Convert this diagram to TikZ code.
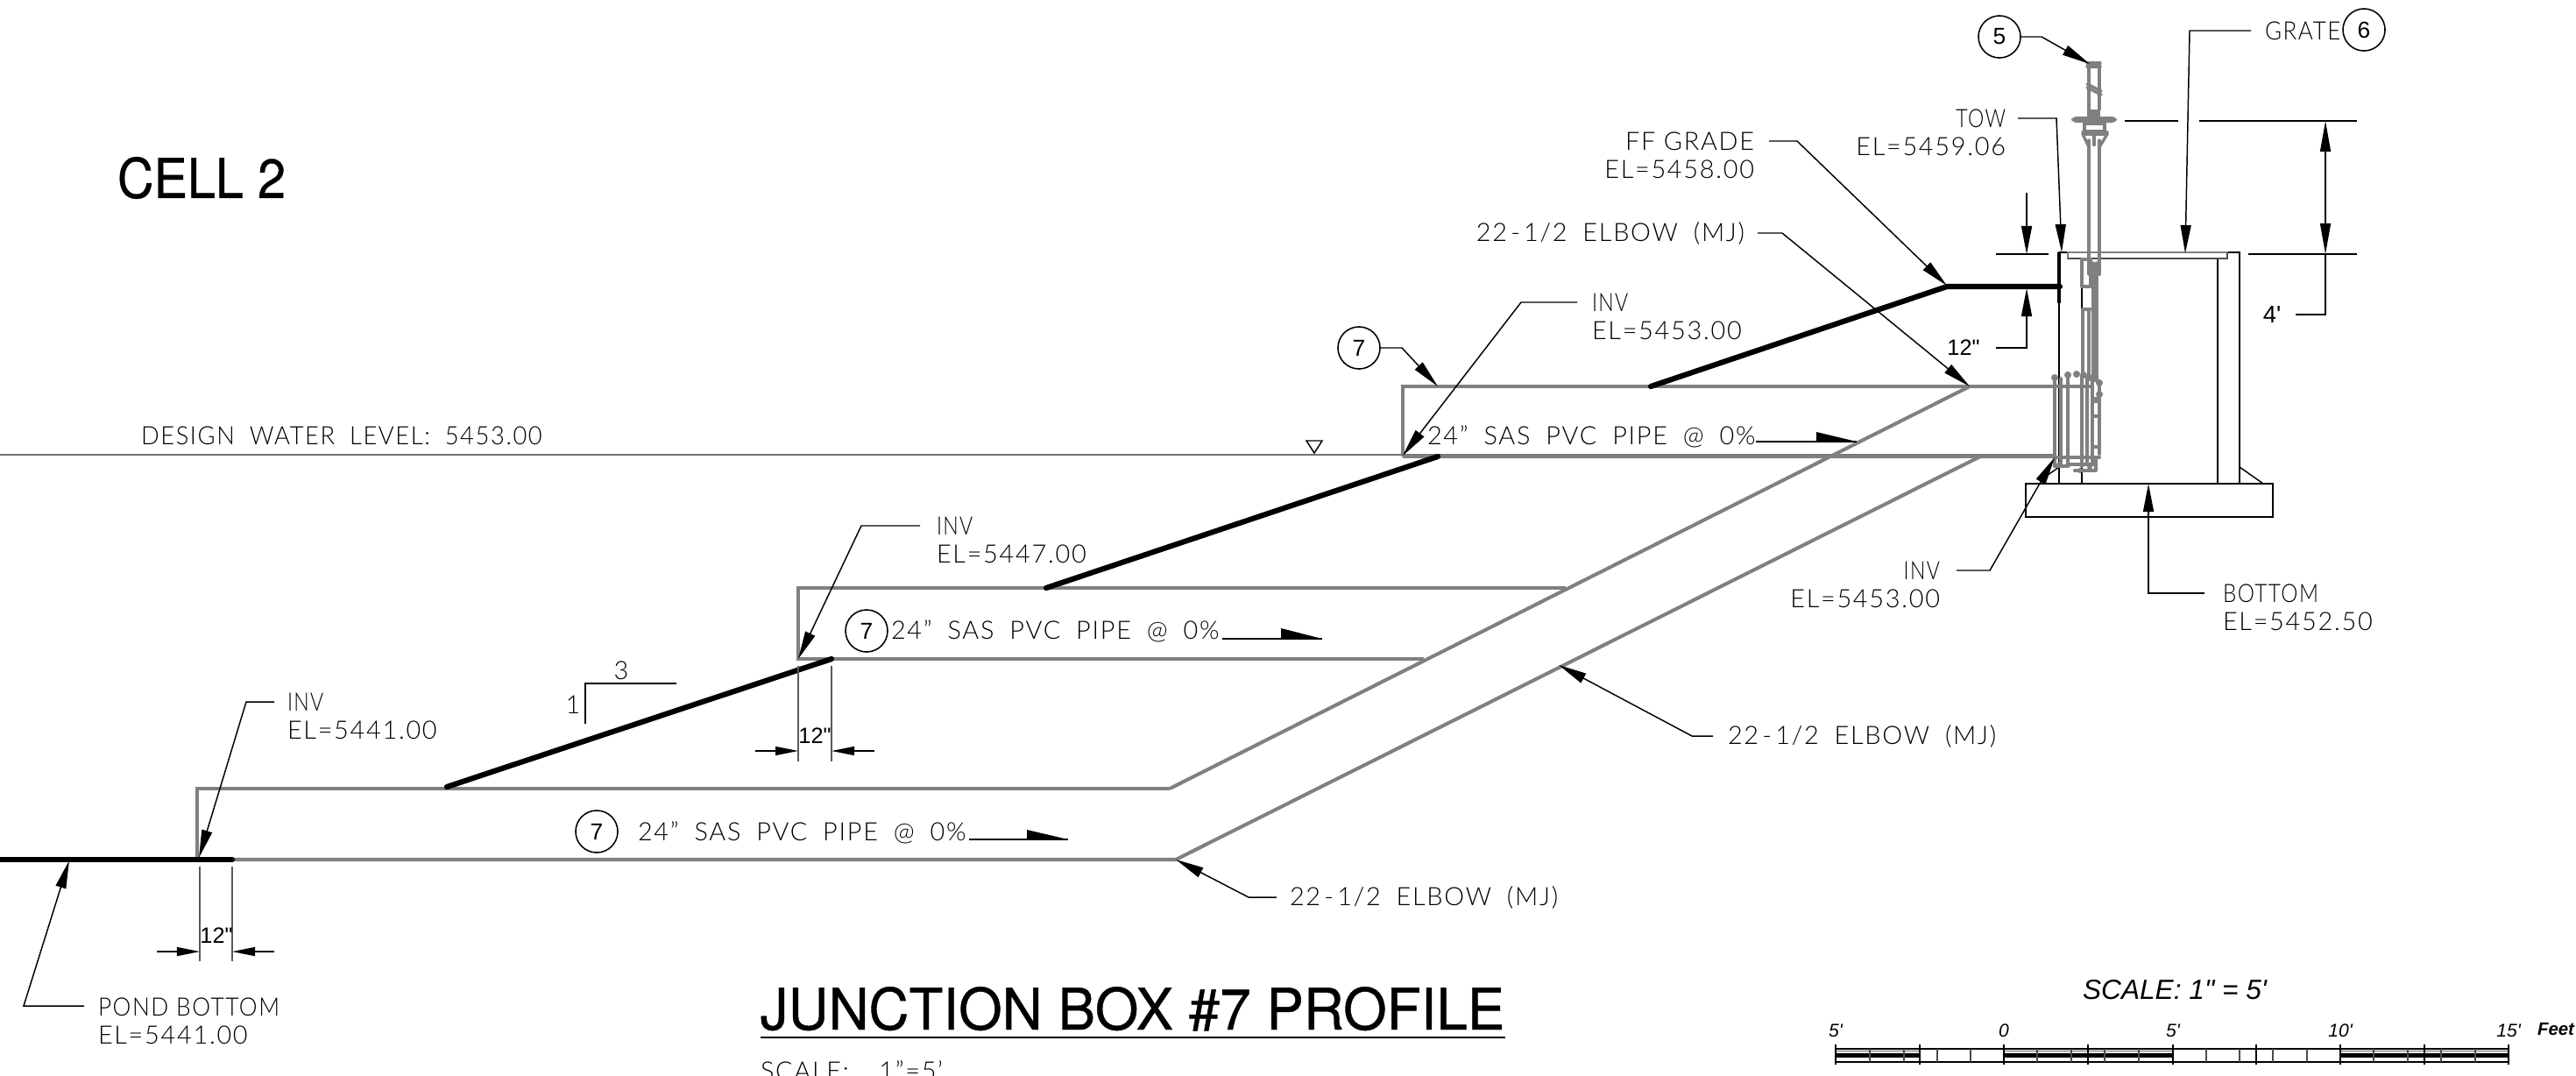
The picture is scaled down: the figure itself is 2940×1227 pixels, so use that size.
\documentclass[tikz,border=0pt]{standalone}
\usepackage{fontspec}
\usetikzlibrary{arrows.meta}
\setmainfont{Lato Light}[LetterSpace=6]
\newfontfamily\widef{Lato Light}[LetterSpace=6,WordSpace=1.87]
\newfontfamily\arialf{Liberation Sans}
\newfontfamily\heavyf{TeX Gyre Heros}[FakeBold=0.6]
\definecolor{pipegray}{HTML}{808080}
\newcommand{\sq}[2]{\scalebox{#1}[1]{#2}}
\newcommand{\elbowtext}{22\kern1.2pt-\kern1.2pt1/2 ELBOW (MJ)}
\tikzset{
  lab/.style={inner sep=0pt,outer sep=0pt,font=\fontsize{8.2}{9.1}\selectfont,align=left,anchor=north west},
  labr/.style={inner sep=0pt,outer sep=0pt,font=\fontsize{8.2}{9.1}\selectfont,align=right,anchor=north east},
  pipetext/.style={inner sep=0pt,outer sep=0pt,font=\widef\fontsize{8.2}{9.1}\selectfont,anchor=base west},
  dimtext/.style={inner sep=0pt,outer sep=0pt,font=\arialf\fontsize{7.2}{8}\selectfont},
  scaletext/.style={inner sep=0pt,outer sep=0pt,font=\arialf\itshape\fontsize{6}{7}\selectfont},
  bubble/.style={circle,draw=black,line width=0.45pt,minimum size=0.48cm,inner sep=0pt,font=\arialf\fontsize{7.5}{8}\selectfont},
  thin line/.style={draw=black,line width=0.42pt},
  leader/.style={thin line,-{Triangle[length=0.32cm,width=0.12cm]}},
  tick arrow/.style={thin line,-{Triangle[length=0.26cm,width=0.1cm]}},
  pipe/.style={draw=pipegray,line width=1.15pt,line join=miter},
  grade/.style={draw=black,line width=1.75pt,line cap=round},
  gate/.style={draw=pipegray,line width=0.95pt,line cap=round,line join=round},
  gatebody/.style={draw=pipegray,line width=1.15pt,line cap=round,line join=round},
  hairline/.style={draw=black!65,line width=0.35pt},
  waterline/.style={draw=black!55,line width=0.35pt},
  flowhead/.style={fill=black},
}
\begin{document}
\begin{tikzpicture}[x=0.01cm,y=-0.01cm]
\useasboundingbox (0,0) rectangle (2940,1227);
\clip (0,0) rectangle (2940,1227);

% ---- key points
\coordinate (waterL) at (0,519); \coordinate (waterR) at (2345,519);
\coordinate (p1tl) at (225,900); \coordinate (p1bl) at (225,981);
\coordinate (p1tr) at (1335,900); \coordinate (p1br) at (1342,981);
\coordinate (p2tl) at (911,671); \coordinate (p2bl) at (911,752);
\coordinate (p2tr) at (1787,671); \coordinate (p2br) at (1625,752);
\coordinate (p3tl) at (1601,441); \coordinate (p3bl) at (1601,521);
\coordinate (p3tr) at (2344,441); \coordinate (p3br) at (2344,521);
\coordinate (elbowU) at (2248,441); \coordinate (elbowL) at (2260,521);
\coordinate (pondL) at (0,981); \coordinate (pondR) at (265,981);
\coordinate (g1a) at (510,898); \coordinate (g1b) at (949,752);
\coordinate (g2a) at (1194,671); \coordinate (g2b) at (1641,521);
\coordinate (g3a) at (1884,441); \coordinate (g3b) at (2222,327); \coordinate (g3c) at (2351,327);
\coordinate (ffT) at (2222,326);
\coordinate (midLow) at (1779,759);

% ---- water level
\draw[waterline] (waterL) -- (waterR);
\node[lab,font=\widef\fontsize{8.2}{9.1}\selectfont] (dwl) at (161,487) {\sq{0.945}{DESIGN WATER LEVEL: 5453.00}};
\coordinate (tA) at (1491,503); \coordinate (tB) at (1509,503); \coordinate (tC) at (1500,517);
\draw[thin line] (tA) -- (tB) -- (tC) -- cycle;

% ---- pipes
\draw[pipe] (p1tr) -- (p1tl) -- (p1bl);
\draw[pipe] (pondR) -- (p1br) -- (elbowL);
\draw[pipe] (p1tr) -- (elbowU);
\draw[pipe] (p2br) -- (p2bl) -- (p2tl) -- (p2tr);
\draw[pipe] (p3bl) -- (p3tl) -- (p3tr);
\draw[pipe] (p3bl) -- (p3br);

% ---- grade line
\draw[grade] (pondL) -- (pondR);
\draw[grade] (g1a) -- (g1b);
\draw[grade] (g2a) -- (g2b);
\draw[grade] (g3a) -- (g3b) -- (g3c);

% ---- structure
\coordinate (boxTL) at (2350,288); \coordinate (boxBL) at (2350,552);
\coordinate (boxTR) at (2556,288); \coordinate (boxBR) at (2556,552);
\coordinate (inTR) at (2531,295); \coordinate (inBR) at (2531,552);
\coordinate (footA) at (2312,552); \coordinate (footB) at (2594,590);
\draw[thin line,line width=0.5pt] (boxBL) -- (boxTL) -- (boxTR) -- (boxBR);
\draw[thin line,line width=0.5pt] (inTR) -- (inBR);
\draw[thin line,line width=0.5pt] (footA) rectangle (footB);
\draw[thin line,line width=0.5pt] (2376,525) -- (2376,552);
\draw[thin line,line width=0.5pt] (2376,327) -- (2376,353);
\draw[thin line,line width=1.1pt] (2350,288) -- (2350,346);
\draw[thin line] (2556,533) -- (2583,552);
\draw[thin line] (2333,545) -- (2350,533);
\draw[draw=pipegray,line width=0.8pt] (2360,288) rectangle (2542,295);
\draw[draw=black!70,line width=0.6pt] (2360,295) -- (2542,295) -- (2542,288);

% gate stem and operator
\draw[gate] (2382,72) -- (2397,72);
\draw[gate] (2382,76) -- (2397,76);
\draw[gate] (2384,72) -- (2384,125);
\draw[gate] (2396,72) -- (2396,125);
\draw[gate] (2382,96) -- (2398,104);
\draw[gate] (2382,100) -- (2398,108);
\fill[pipegray] (2382,125) rectangle (2397,135);
\fill[pipegray,rounded corners=1.5pt] (2364,133) rectangle (2416,140);
\draw[gate] (2379,141) -- (2402,141) -- (2402,150) -- (2379,150) -- cycle;
\draw[gate] (2377,151) -- (2405,151);
\draw[gate] (2377,153) -- (2405,153);
\draw[gate] (2377,153) -- (2384,168);
\draw[gate] (2405,153) -- (2396,168);
\draw[gate,line width=1.3pt] (2390,155) -- (2390,165);
\draw[gate] (2384,160) -- (2384,313);
\draw[gate] (2396,160) -- (2396,313);
\draw[gate] (2396,313) -- (2388,313);
\draw[gatebody] (2376,296) -- (2376,327) -- (2386,327) -- (2386,296) -- cycle;
\draw[gate] (2378,353) -- (2386,353);
\draw[gatebody] (2377,353) -- (2377,430);
\draw[gatebody] (2384,353) -- (2384,430);
\draw[gate] (2389,300) -- (2389,435);
\draw[gate] (2393,300) -- (2393,435);
\draw[gatebody] (2345,430) -- (2345,532);
\draw[gatebody] (2352,432) -- (2352,530);
\draw[gatebody] (2360,430) -- (2360,530);
\draw[gatebody] (2376,430) -- (2376,530);
\draw[gatebody] (2382,430) -- (2382,530);
\draw[gatebody] (2388,435) -- (2388,530);
\draw[gatebody] (2396,435) -- (2396,518);
\draw[gatebody] (2345,441) -- (2388,441);
\draw[gatebody] (2345,522) -- (2396,522);
\draw[gatebody] (2360,530) -- (2392,530);
\draw[gatebody] (2368,537) -- (2392,537) -- (2392,522);
\draw[gatebody] (2345,532) -- (2358,532);
\draw[gatebody] (2388,455) -- (2396,455);
\draw[gatebody] (2388,458) -- (2396,458);
\draw[gatebody] (2388,475) -- (2396,475);
\draw[gatebody] (2388,510) -- (2396,510);
\foreach \cx/\cy in {2345/431,2360/428,2370/427,2378/428,2385/431,2396/437,2396/450}
  \fill[pipegray] (\cx,\cy) circle (4);
\foreach \cx/\cy in {2350/530,2360/531,2376/531,2385/533,2374/537}
  \fill[pipegray] (\cx,\cy) circle (3);

% ---- bubbles
\node[bubble] (b5) at (2282,42) {5};
\node[bubble] (b6) at (2698,34) {6};
\node[bubble] (b7a) at (1551,397) {7};
\node[bubble] (b7b) at (989,720) {7};
\node[bubble] (b7c) at (681,949) {7};

% ---- labels and leaders
\coordinate (stemTop) at (2385,73);
\coordinate (e5) at (2330,42);
\draw[leader] (b5.east) -- (e5) -- (stemTop);

\node[lab,anchor=west] (grate) at (2585,35) {\sq{0.9}{GRATE}};
\coordinate (gS) at (2569,35); \coordinate (gE) at (2499,35); \coordinate (gT) at (2494,289);
\draw[leader] (gS) -- (gE) -- (gT);

\node[labr] (tow) at (2289,125) {\sq{0.8}{TOW}\\EL=5459.06};
\coordinate (towS) at (2303,135); \coordinate (towE) at (2347,135); \coordinate (towT) at (2353,288);
\draw[leader] (towS) -- (towE) -- (towT);

\node[labr] (ff) at (2002,151) {FF GRADE\\EL=5458.00};
\coordinate (ffS) at (2019,161); \coordinate (ffE) at (2051,161);
\draw[leader] (ffS) -- (ffE) -- (ffT);

\node[labr,anchor=east,font=\widef\fontsize{8.2}{9.1}\selectfont] (elb1) at (1991,266) {\elbowtext};
\coordinate (el1S) at (2006,266); \coordinate (el1E) at (2034,266);
\draw[leader] (el1S) -- (el1E) -- (elbowU);

\node[lab] (inv3) at (1817,335) {\sq{0.8}{INV}\\EL=5453.00};
\coordinate (i3S) at (1800,345); \coordinate (i3E) at (1736,345); \coordinate (i3T) at (1601,520);
\draw[leader] (i3S) -- (i3E) -- (i3T);

\coordinate (e7a) at (1600,397); \coordinate (t7a) at (1641,441);
\draw[leader] (b7a.east) -- (e7a) -- (t7a);

\node[lab] (inv2) at (1069,590) {\sq{0.8}{INV}\\EL=5447.00};
\coordinate (i2S) at (1050,600); \coordinate (i2E) at (983,600); \coordinate (i2T) at (911,752);
\draw[leader] (i2S) -- (i2E) -- (i2T);

\node[lab] (inv1) at (328,791) {\sq{0.8}{INV}\\EL=5441.00};
\coordinate (i1S) at (313,801); \coordinate (i1E) at (281,801); \coordinate (i1T) at (227,979);
\draw[leader] (i1S) -- (i1E) -- (i1T);

\node[lab] (pond) at (112,1139) {\sq{0.91}{POND BOTTOM}\\EL=5441.00};
\coordinate (pS) at (96,1148); \coordinate (pE) at (27,1148); \coordinate (pT) at (79,982);
\draw[leader] (pS) -- (pE) -- (pT);

\node[labr] (invR) at (2214,641) {\sq{0.8}{INV}\\EL=5453.00};
\coordinate (irS) at (2233,651); \coordinate (irE) at (2271,651); \coordinate (irT) at (2345,522);
\draw[leader] (irS) -- (irE) -- (irT);

\node[lab] (bot) at (2537,667) {\sq{0.84}{BOTTOM}\\EL=5452.50};
\coordinate (bS) at (2516,677); \coordinate (bE) at (2452,677); \coordinate (bT) at (2452,552);
\draw[leader] (bS) -- (bE) -- (bT);

\node[lab,anchor=west,font=\widef\fontsize{8.2}{9.1}\selectfont] (elb2) at (1972,840) {\elbowtext};
\coordinate (el2S) at (1955,840); \coordinate (el2E) at (1931,840);
\draw[leader] (el2S) -- (el2E) -- (midLow);

\node[lab,anchor=west,font=\widef\fontsize{8.2}{9.1}\selectfont] (elb3) at (1472,1024) {\elbowtext};
\coordinate (el3S) at (1457,1024); \coordinate (el3E) at (1425,1024);
\draw[leader] (el3S) -- (el3E) -- (p1br);

% ---- pipe callouts with half arrows
\node[pipetext] (t3) at (1629,507) {24” SAS PVC PIPE @ 0\%};
\coordinate (f3a) at (2004,504); \coordinate (f3b) at (2119,504); \coordinate (f3c) at (2073,504); \coordinate (f3d) at (2073,493);
\draw[thin line] (f3a) -- (f3b); \fill[flowhead] (f3c) -- (f3d) -- (f3b) -- cycle;

\node[pipetext] (t2) at (1017,729) {24” SAS PVC PIPE @ 0\%};
\coordinate (f2a) at (1395,729); \coordinate (f2b) at (1509,729); \coordinate (f2c) at (1462,729); \coordinate (f2d) at (1462,717);
\draw[thin line] (f2a) -- (f2b); \fill[flowhead] (f2c) -- (f2d) -- (f2b) -- cycle;

\node[pipetext] (t1) at (728,959) {24” SAS PVC PIPE @ 0\%};
\coordinate (f1a) at (1106,958); \coordinate (f1b) at (1219,958); \coordinate (f1c) at (1172,958); \coordinate (f1d) at (1172,947);
\draw[thin line] (f1a) -- (f1b); \fill[flowhead] (f1c) -- (f1d) -- (f1b) -- cycle;

% ---- slope symbol
\node[dimtext,font=\fontsize{8.2}{9}\selectfont] (s1) at (654,804) {1};
\node[dimtext,font=\fontsize{8.2}{9}\selectfont] (s3) at (709,765) {3};
\coordinate (sA) at (668,826); \coordinate (sB) at (668,780); \coordinate (sC) at (772,780);
\draw[thin line] (sA) -- (sB) -- (sC);

% ---- 12" dimensions
\coordinate (d1a) at (228,989); \coordinate (d1b) at (228,1097);
\coordinate (d1c) at (265,989); \coordinate (d1d) at (265,1097);
\coordinate (d1l) at (179,1086); \coordinate (d1lt) at (228,1086);
\coordinate (d1r) at (313,1086); \coordinate (d1rt) at (265,1086);
\draw[hairline] (d1a) -- (d1b); \draw[hairline] (d1c) -- (d1d);
\draw[tick arrow] (d1l) -- (d1lt); \draw[tick arrow] (d1r) -- (d1rt);
\node[dimtext] (d1) at (247,1068) {12"};

\coordinate (d2a) at (911,760); \coordinate (d2b) at (911,869);
\coordinate (d2c) at (949,760); \coordinate (d2d) at (949,869);
\coordinate (d2l) at (862,857); \coordinate (d2lt) at (911,857);
\coordinate (d2r) at (998,857); \coordinate (d2rt) at (949,857);
\draw[hairline] (d2a) -- (d2b); \draw[hairline] (d2c) -- (d2d);
\draw[tick arrow] (d2l) -- (d2lt); \draw[tick arrow] (d2r) -- (d2rt);
\node[dimtext] (d2) at (930,840) {12"};

\coordinate (d3a) at (2278,290); \coordinate (d3b) at (2338,290);
\coordinate (d3t) at (2313,220); \coordinate (d3tt) at (2313,290);
\coordinate (d3s) at (2278,397); \coordinate (d3e) at (2313,397); \coordinate (d3u) at (2313,329);
\draw[thin line] (d3a) -- (d3b);
\draw[leader] (d3t) -- (d3tt);
\draw[leader] (d3s) -- (d3e) -- (d3u);
\node[dimtext] (d3) at (2241,397) {12"};

\coordinate (d4a) at (2425,138); \coordinate (d4b) at (2486,138);
\coordinate (d4c) at (2510,138); \coordinate (d4d) at (2690,138);
\coordinate (d4e) at (2566,290); \coordinate (d4f) at (2690,290);
\coordinate (d4t) at (2654,138); \coordinate (d4u) at (2654,290);
\coordinate (d4v) at (2654,359); \coordinate (d4w) at (2620,359);
\draw[thin line] (d4a) -- (d4b);
\draw[thin line] (d4c) -- (d4d);
\draw[thin line] (d4e) -- (d4f);
\draw[thin line,{Triangle[length=0.35cm,width=0.12cm]}-{Triangle[length=0.35cm,width=0.12cm]}] (d4t) -- (d4u);
\draw[thin line] (d4u) -- (d4v) -- (d4w);
\node[dimtext,font=\arialf\fontsize{7.8}{9}\selectfont] (d4) at (2593,359) {4'};

% ---- titles
\node[inner sep=0pt,anchor=center,font=\heavyf\fontsize{17.8}{20}\selectfont] (cell) at (230,203) {\sq{0.92}{CELL 2}};
\node[inner sep=0pt,anchor=base west,font=\heavyf\fontsize{18.6}{20}\selectfont] (title) at (867,1175) {\sq{0.975}{JUNCTION BOX \#7 PROFILE}};
\coordinate (ulA) at (868,1184); \coordinate (ulB) at (1718,1184);
\draw[draw=black,line width=0.7pt] (ulA) -- (ulB);
\node[pipetext] (sc) at (868,1232) {SCALE:\hspace{1.2em}1”=5’};

% ---- bar scale
\node[inner sep=0pt,font=\arialf\itshape\fontsize{9}{10}\selectfont] (scT) at (2482,1130) {SCALE: 1" = 5'};
\foreach \xx/\tt in {2095/5',2287/0,2480/5',2671/10',2863/15'}
  \node[scaletext] at (\xx,1176) {\tt};
\node[scaletext,anchor=west,font=\arialf\itshape\bfseries\fontsize{5.8}{7}\selectfont] (feet) at (2896,1175) {Feet};
\coordinate (barTL) at (2095,1197); \coordinate (barTR) at (2863,1197);
\coordinate (barBL) at (2095,1212); \coordinate (barBR) at (2863,1212);
\draw[thin line,line width=0.45pt] (barTL) -- (barTR);
\draw[thin line,line width=0.5pt] (barBL) -- (barBR);
\foreach \xa/\xb in {2095/2191,2287/2480,2671/2863} {
  \fill[black] (\xa,1202) rectangle (\xb,1207);
  \draw[draw=black!60,line width=0.3pt] (\xa,1199.5) -- (\xb,1199.5);
}
\foreach \xx in {2134,2173,2211,2249,2325,2364,2402,2441,2518,2556,2594,2633,2709,2748,2786,2825}
  \draw[draw=black!70,line width=0.35pt] (\xx,1197) -- (\xx,1212);
\foreach \xx in {2095,2191,2287,2383,2480,2575,2671,2767,2863}
  \draw[draw=black,line width=0.4pt] (\xx,1192) -- (\xx,1215);
\end{tikzpicture}
\end{document}
